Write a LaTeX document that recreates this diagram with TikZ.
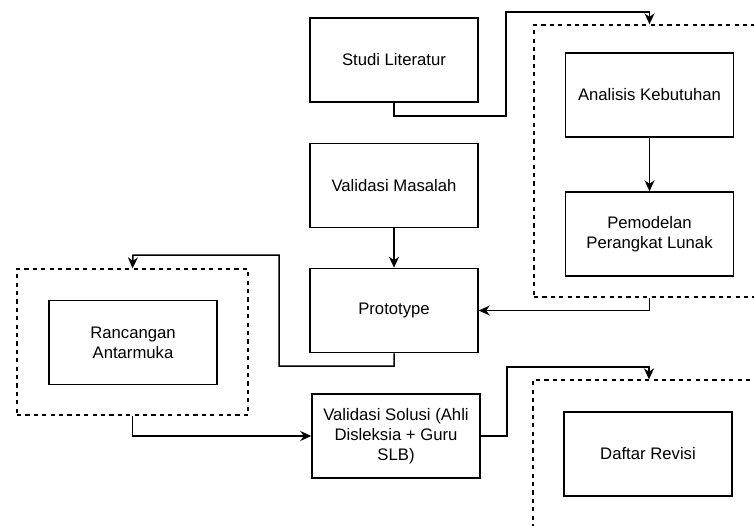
\documentclass[tikz,border=0pt]{standalone}
\usepackage{fontspec}
\setmainfont{Liberation Sans}
\usetikzlibrary{arrows.meta}
\begin{document}
\begin{tikzpicture}[x=1pt,y=-1pt,line width=1.5pt,
  font=\fontsize{16.7}{20}\selectfont,
  box/.style={draw,minimum width=168pt,minimum height=84pt,inner sep=0pt,align=center},
  group/.style={draw,dash pattern=on 4.2pt off 4.2pt,line width=1.3pt,inner sep=0pt},
  link/.style={-{Stealth[length=11pt,width=10pt,inset=3.5pt]},line join=miter}]
\useasboundingbox (0,0) rectangle (754,525);
\node[group,minimum width=231pt,minimum height=272pt] (kebutuhan) at (649.5,161) {};
\node[group,minimum width=231pt,minimum height=146pt] (antarmuka) at (132.5,342) {};
\node[group,minimum width=232pt,minimum height=148pt] (revisi) at (649,454) {};
\node[box] (studi) at (394,60) {Studi Literatur};
\node[box] (analisis) at (649.5,95) {Analisis Kebutuhan};
\node[box] (pemodelan) at (649.5,234) {Pemodelan\\Perangkat Lunak};
\node[box] (masalah) at (394,185.5) {Validasi Masalah};
\node[box] (proto) at (394,310.5) {Prototype};
\node[box] (rancangan) at (133,342.5) {Rancangan\\Antarmuka};
\node[box] (solusi) at (396,436) {Validasi Solusi (Ahli\\Disleksia + Guru\\SLB)};
\node[box] (daftar) at (648,454) {Daftar Revisi};
\draw[link] (studi.south) |- (506,116) |- (649.5,12) -- (kebutuhan.north);
\draw[link] (analisis) -- (pemodelan);
\draw[link] (kebutuhan.south) |- (proto.east);
\draw[link] (masalah) -- (proto);
\draw[link] (proto.south) |- (279,366) |- (133,255) -- (antarmuka.north);
\draw[link] (antarmuka.south) |- (solusi.west);
\draw[link] (solusi.east) -| (507,367) -| (revisi.north);
\end{tikzpicture}
\end{document}
